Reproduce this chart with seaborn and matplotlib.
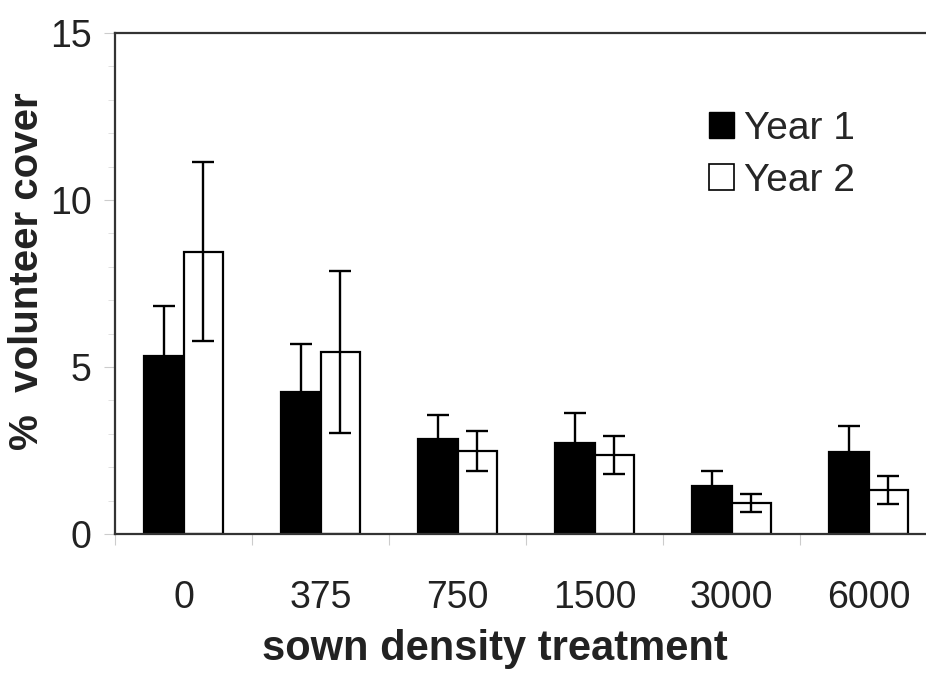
import numpy as np
import pandas as pd
import matplotlib
matplotlib.use("Agg")
import matplotlib.pyplot as plt
import seaborn as sns
from matplotlib.ticker import FixedLocator, MultipleLocator
from matplotlib.patches import Patch

# data
densities = ["0", "375", "750", "1500", "3000", "6000"]
year1_cover = [5.34, 4.26, 2.84, 2.72, 1.44, 2.45]
year1_err = [1.50, 1.42, 0.72, 0.89, 0.44, 0.78]
year2_cover = [8.45, 5.45, 2.49, 2.37, 0.94, 1.32]
year2_err = [2.68, 2.43, 0.60, 0.56, 0.27, 0.43]
years = ["Year 1", "Year 2"]

sns.set_theme(style="white")
plt.rcParams['font.family'] = ['Liberation Sans', 'DejaVu Sans']

df = pd.DataFrame({
    "density": densities * 2,
    "cover": year1_cover + year2_cover,
    "err": year1_err + year2_err,
    "year": [years[0]] * len(densities) + [years[1]] * len(densities),
})

fig = plt.figure(figsize=(9.26, 6.74), dpi=100)
ax = fig.add_axes([0.1242, 0.2077, 0.8877, 0.7433])

sns.barplot(data=df, x="density", y="cover", hue="year", order=densities,
            hue_order=years, palette=["black", "white"], edgecolor="black",
            linewidth=1.6, width=0.58, errorbar=None, legend=False, ax=ax)

# error bars at bar centres
for cont, yr in zip(ax.containers, years):
    sub = df[df["year"] == yr].set_index("density").loc[densities]
    xs = [p.get_x() + p.get_width() / 2 for p in cont.patches]
    ax.errorbar(xs, sub["cover"], yerr=sub["err"], fmt="none", ecolor="black",
                elinewidth=1.7, capsize=8, capthick=1.7, zorder=5)

ax.set_ylim(0, 15)
ax.set_xlim(-0.5, len(densities) - 0.5)
ax.yaxis.set_major_locator(FixedLocator([0, 5, 10, 15]))
ax.yaxis.set_minor_locator(MultipleLocator(1))
ax.xaxis.set_minor_locator(FixedLocator(np.arange(-0.5, len(densities), 1)))

ax.tick_params(axis="x", which="major", length=0, pad=33, labelsize=27, colors="#222222")
ax.tick_params(axis="x", which="minor", length=8, width=0.8, color="#cccccc", direction="out", bottom=True)
ax.tick_params(axis="y", which="major", length=8, width=0.8, color="#cccccc", pad=9,
               labelsize=27, labelcolor="#222222", left=True)
ax.tick_params(axis="y", which="minor", length=5, width=0.6, color="#dddddd", left=True)

for s in ["left", "top", "bottom", "right"]:
    ax.spines[s].set_color("#333333")
    ax.spines[s].set_linewidth(1.6)

ax.set_xlabel("sown density treatment", fontsize=30, fontweight="bold", color="#222222")
ax.set_ylabel("%  volunteer cover", fontsize=29, fontweight="bold", color="#222222")
ax.xaxis.set_label_coords(0.462, -0.19)
ax.yaxis.set_label_coords(-0.084, 0.525)

handles = [Patch(facecolor="black", edgecolor="black", label=years[0]),
           Patch(facecolor="white", edgecolor="black", linewidth=1.2, label=years[1])]
ax.legend(handles=handles, loc="upper left", bbox_to_anchor=(0.722, 0.845), frameon=False,
          fontsize=28, handlelength=0.65, handleheight=0.65, handletextpad=0.25,
          labelspacing=0.42, borderpad=0, borderaxespad=0)

fig.savefig("out.png", dpi=100)
